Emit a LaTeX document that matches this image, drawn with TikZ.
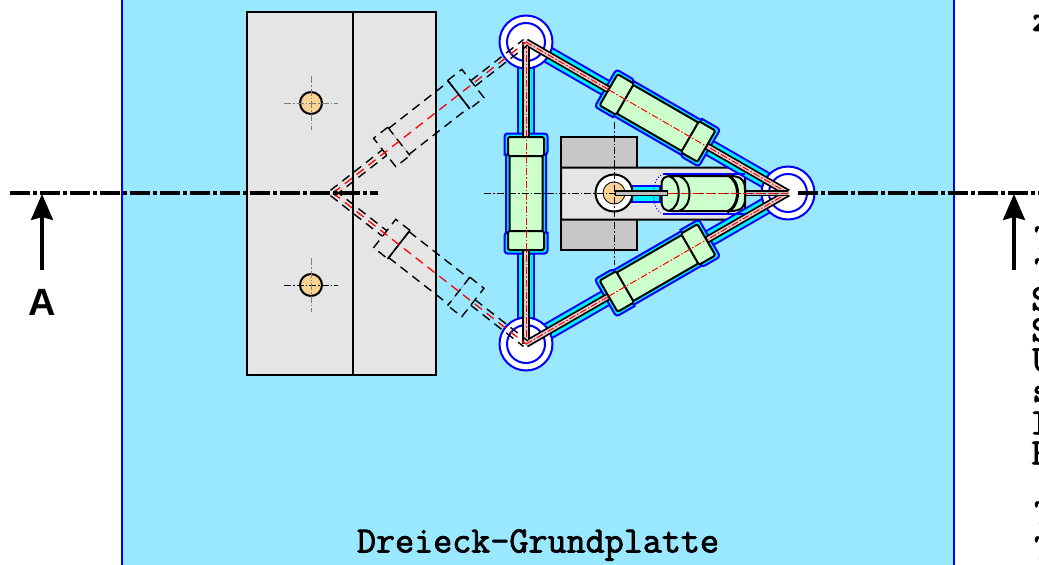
\documentclass[tikz,border=0pt]{standalone}
\usepackage{fontspec}
\usepackage{tikz}
\usetikzlibrary{arrows.meta}
\newfontfamily\arrowfont{Liberation Sans}[Scale=1]
\newfontfamily\heavytype{Latin Modern Mono}[FakeBold=2.2]
\definecolor{platebg}{RGB}{153,232,255}
\definecolor{grease}{RGB}{0,240,255}
\definecolor{tubegreen}{RGB}{204,255,204}
\definecolor{pinorange}{RGB}{250,210,145}
\definecolor{rodgrey}{RGB}{222,205,205}
\tikzset{
    outline/.style={draw=black, line width=2},
    centerline/.style={line width=0.9, dash pattern=on 7 off 2 on 1.5 off 2},
    redline/.style={draw=red, line width=1, dash pattern=on 7 off 2 on 1.5 off 2},
    ghostline/.style={draw=black, line width=1.4, dash pattern=on 9 off 6},
    cutline/.style={line width=4, dash pattern=on 20 off 3 on 4 off 3},
    haloline/.style={draw=blue, fill=grease, line width=2},
    ringline/.style={draw=blue, fill=white, line width=2},
    tubeline/.style={draw=black, fill=tubegreen, line width=2, rounded corners=1.5},
    cutarrow/.style={line width=3.2, -{Stealth[length=26,width=22,inset=3]}},
    scaletext/.style={font=\heavytype\fontsize{37}{38}\selectfont, inner sep=0, anchor=west},
}
\begin{document}
\begin{tikzpicture}[x=1pt, y=-1pt]
    \useasboundingbox (0,0) rectangle (1039,565);
    \coordinate (pa) at (526,42);
    \coordinate (pb) at (526,344);
    \coordinate (pc) at (788,193);
    \coordinate (qa) at (333,193);
    % base plate
    \path[fill=platebg] (122,0) rectangle (954,565);
    \draw[blue, line width=2] (122,0) -- (122,565);
    \draw[blue, line width=2] (954,0) -- (954,565);
    \draw[outline, fill=black!10] (247,12) rectangle (436,375);
    \draw[outline] (353,12) -- (353,375);
    \foreach \y/\c in {103/gray, 285/black} {
        \draw[outline, fill=pinorange] (311,\y) circle (11);
        \draw[centerline, draw=\c] (284,\y) -- (338,\y);
        \draw[centerline, draw=gray] (311,\y-27) -- (311,\y+27);
    }
    % carrier block
    \draw[outline, fill=black!22] (561,137) rectangle (637,250);
    \draw[outline, fill=black!10] (561,167.5) -- (737,167.5) -- (745,177) -- (745,210) -- (730,219.5) -- (561,219.5) -- cycle;
    % bands round the struts
    \foreach \s/\e in {pa/pb, pa/pc, pb/pc} {
        \draw[blue, line width=17.5] (\s) -- (\e);
        \draw[grease, line width=13.5] (\s) -- (\e);
    }
    % halos of the three tubes
    \foreach \x/\y/\r in {526/193.5/90, 657.5/118/-30, 657.5/268/30} {
        \begin{scope}[shift={(\x,\y)}, rotate=\r]
            \draw[haloline] (-39,-21.5) [sharp corners] -- (-39,-20) -- (39,-20) -- (39,-21.5) [rounded corners=3] -- (60,-21.5) -- (60,21.5) -- (39,21.5)
                [sharp corners] -- (39,20) -- (-39,20) -- (-39,21.5) [rounded corners=3] -- (-60,21.5) -- (-60,-21.5) -- cycle;
        \end{scope}
    }
    % rings
    \foreach \p in {pa, pb, pc} {
        \draw[ringline] (\p) circle (26.5);
        \draw[blue, line width=2] (\p) circle (19);
    }
    % struts
    \foreach \s/\e in {pa/pb, pa/pc, pb/pc} {
        \draw[black, line width=7.5, line join=miter] (\s) -- (\e);
    }
    \foreach \s/\e in {pa/pb, pa/pc, pb/pc} {
        \draw[rodgrey, line width=4] (\s) -- (\e);
        \draw[redline] (\s) -- (\e);
    }
    % small cylinder
    \draw[blue, line width=2, fill=grease] (632,186) rectangle (660,202);
    \draw[blue, dotted, line width=1] (661,175) .. controls (651,180) and (651,208) .. (661,213);
    \draw[blue, line width=2] (663,173.5) -- (745,173.5);
    \draw[blue, line width=2] (663,213.5) -- (745,213.5);
    \draw[black, line width=6] (745,193) -- (pc);
    \draw[black!25, line width=3] (745,193) -- (pc);
    \draw[black, line width=2, fill=tubegreen] (672,176) -- (730,176) .. controls (742,176) and (745,181) .. (745,190)
        -- (745,198) .. controls (745,207) and (742,211) .. (730,211) -- (672,211) .. controls (664,211) and (661.5,208) .. (661.5,200)
        -- (661.5,186) .. controls (661.5,178) and (664,176) .. (672,176) -- cycle;
    \draw[line width=2] (669,176) .. controls (682,180) and (682,207) .. (669,211);
    \draw[line width=2] (679,176) .. controls (693,180) and (693,207) .. (679,211);
    \draw[line width=3] (727,175) .. controls (741,180) and (741,206) .. (727,212);
    % big tubes
    \foreach \x/\y/\r in {526/193.5/90, 657.5/118/-30, 657.5/268/30} {
        \begin{scope}[shift={(\x,\y)}, rotate=\r]
            \draw[tubeline] (-38,-16.5) rectangle (38,16.5);
            \draw[tubeline] (-56.5,-18) rectangle (-37.5,18);
            \draw[tubeline] (37.5,-18) rectangle (56.5,18);
            \draw[redline] (-56.5,0) -- (56.5,0);
        \end{scope}
    }
    % pivot
    \draw[outline, fill=white] (614,193) circle (18.5);
    \draw[black, line width=0.8, fill=pinorange] (614,193) circle (11);
    \draw[centerline] (614,122) -- (614,265);
    \draw[centerline] (484,193) -- (pc);
    \draw[black, line width=6] (615,193) -- (668,193);
    \draw[black!25, line width=3] (616,193) -- (667,193);
    \draw[redline] (668,193) -- (pc);
    % swung-out position
    \foreach \r/\x/\y/\n/\f in {38/428.8/118/0.01/1.6, -38/428.8/268/1.6/0.01} {
        \begin{scope}[shift={(\x,\y)}, rotate=\r]
            \draw[ghostline] (-122,-3.5) -- (-56,-3.5);
            \draw[ghostline] (-122,3.5) -- (-56,3.5);
            \draw[ghostline] (56,-3.5) -- (123,-3.5);
            \draw[ghostline] (56,3.5) -- (123,3.5);
            \draw[ghostline] (-38,-16.5) -- (38,-16.5);
            \draw[ghostline] (-38,16.5) -- (38,16.5);
            \draw[ghostline] (-38,-18) -- (-56,-18) -- (-56,18) -- (-38,18);
            \draw[ghostline] (38,-18) -- (56,-18) -- (56,18) -- (38,18);
            \draw[ghostline] (-38,-18) -- (-38,18);
            \draw[ghostline] (38,-18) -- (38,18);
            \draw[black, line width=\n] (-38,-18) -- (-38,18);
            \draw[black, line width=\f] (38,-18) -- (38,18);
        \end{scope}
    }
    \draw[draw=red, line width=1.3, dash pattern=on 9 off 6] (qa) -- (pa);
    \draw[draw=red, line width=1.3, dash pattern=on 9 off 6] (qa) -- (pb);
    % section line
    \draw[cutline] (10,193) -- (378,193);
    \draw[cutline] (798,193) -- (1039,193);
    \coordinate (tipa) at (42,194);
    \coordinate (taila) at (42,270);
    \coordinate (tipb) at (1014,194);
    \coordinate (tailb) at (1014,270);
    \draw[cutarrow] (taila) -- (tipa);
    \draw[cutarrow] (tailb) -- (tipb);
    \node[font=\arrowfont\bfseries\fontsize{38}{40}\selectfont, inner sep=0] (labela) at (42,302) {A};
    \node[font=\heavytype\fontsize{37}{38}\selectfont, inner sep=0] (title) at (538,545) {Dreieck-Grundplatte};
    % text cut off by the page edge
    \foreach \t/\x/\y in {z/1032/23, T/1034/238, T/1034/270, S/1031/299, S/1031/330, U/1032/360, s/1032/394, I/1030/423, F/1031/453, T/1034/513, T/1034/548} {
        \node[scaletext] at (\x,\y) {\t};
    }
\end{tikzpicture}
\end{document}
